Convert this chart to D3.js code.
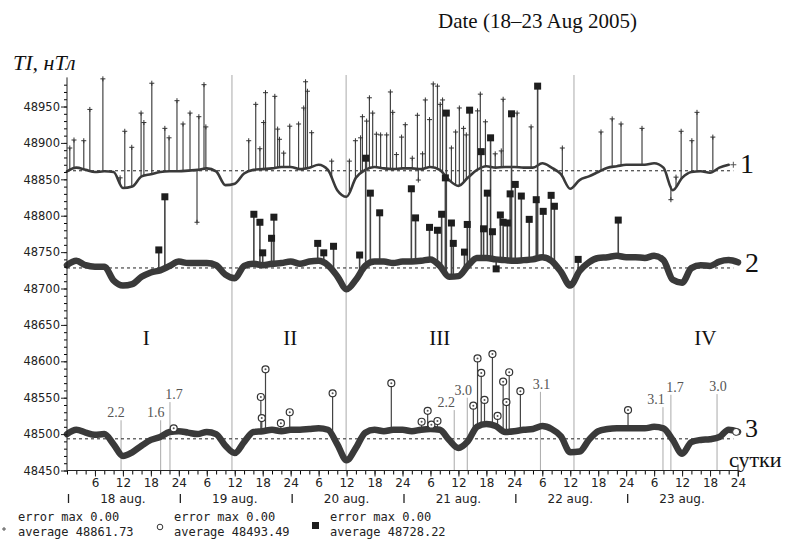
<!DOCTYPE html>
<html>
<head>
<meta charset="utf-8">
<script src="https://cdn.jsdelivr.net/npm/d3@7"></script>
<style>
body { margin: 0; background: #fff; }
svg text { font-family: "DejaVu Sans", sans-serif; }
.serif { font-family: "Liberation Serif", "Times New Roman", serif !important; }
.mono { font-family: "DejaVu Sans Mono", monospace !important; }
</style>
</head>
<body>
<script>
// --- data (hours from 18 Aug 00:00) ---
let days = ["18 aug.", "19 aug.", "20 aug.", "21 aug.", "22 aug.", "23 aug."];

// base curves, one value every 2 hours
let series1 = [48861,48866,48863,48860,48861,48860,48838,48840,48854,48857,
  48860,48861,48861,48862,48863,48865,48861,48842,48844,48858,
  48863,48864,48865,48867,48867,48864,48866,48870,48863,48835,
  48826,48852,48863,48867,48865,48864,48865,48865,48864,48867,
  48863,48849,48841,48852,48863,48868,48866,48867,48867,48866,
  48866,48872,48866,48857,48837,48849,48854,48860,48866,48868,
  48870,48870,48870,48872,48866,48835,48852,48860,48861,48859,
  48866,48870];
let series2 = [48732,48738,48732,48730,48730,48711,48704,48706,48716,48722,
  48725,48731,48737,48735,48735,48735,48732,48719,48714,48731,
  48734,48732,48734,48735,48737,48734,48737,48738,48732,48717,
  48699,48712,48731,48737,48737,48735,48737,48737,48738,48740,
  48731,48716,48717,48731,48742,48742,48740,48739,48738,48739,
  48740,48743,48738,48723,48704,48724,48736,48742,48743,48745,
  48743,48743,48742,48745,48739,48712,48708,48728,48732,48731,
  48737,48739,48736];
let series3 = [48500,48506,48502,48499,48500,48486,48470,48475,48484,48492,
  48496,48503,48504,48502,48500,48503,48500,48484,48474,48489,
  48503,48504,48506,48504,48506,48506,48507,48508,48506,48486,
  48464,48481,48502,48506,48504,48506,48506,48504,48506,48507,
  48506,48492,48481,48490,48510,48514,48511,48503,48504,48506,
  48507,48511,48507,48497,48475,48476,48492,48504,48507,48508,
  48508,48508,48508,48510,48508,48492,48473,48489,48492,48493,
  48496,48506,48503];

// outliers [hour, value]
let spikes1 = [[0.6,48893],[1.5,48904],[3.6,48903],[4.9,48946],[7.7,48988],[11.4,48852],[12.4,48916],[13.9,48894],[15.9,48941],[16.5,48928],
  [18.2,48982],[21.0,48920],[21.9,48907],[23.6,48958],[24.9,48926],[26.4,48941],[27.9,48791],[28.3,48936],[29.4,48980],[29.8,48922],
  [39.0,48903],[40.5,48953],[41.4,48892],[42.2,48928],[42.6,48969],[44.6,48964],[45.2,48919],[45.6,48905],[46.5,48886],[47.8,48923],
  [49.7,48926],[50.8,48948],[51.2,48984],[51.6,48971],[52.5,48914],[56.8,48875],[60.6,48875],[61.9,48903],[63.0,48907],[63.4,48936],
  [64.3,48930],[64.9,48962],[65.6,48941],[66.4,48912],[67.3,48911],[68.6,48911],[69.4,48970],[69.9,48942],[70.7,48884],[71.8,48908],
  [72.6,48925],[74.1,48879],[75.2,48938],[75.4,48849],[76.3,48885],[76.9,48959],[77.8,48932],[78.6,48981],[79.5,48978],[80.1,48953],
  [80.6,48959],[82.5,48893],[83.4,48915],[84.2,48948],[85.1,48920],[85.7,48911],[88.1,48944],[88.7,48967],[89.8,48929],[91.9,48885],
  [93.2,48889],[93.6,48960],[96.6,48941],[99.6,48922],[106.3,48893],[114.6,48915],[117.0,48933],[118.9,48926],[123.4,48920],[129.6,48822],
  [130.7,48853],[131.8,48916],[134.1,48903],[135.2,48942],[138.6,48908]];
let spikes2 = [[19.7,48753],[21.0,48826],[40.1,48802],[41.4,48791],[42.0,48749],[43.9,48769],[44.4,48798],[53.8,48762],[55.1,48749],[57.2,48758],
  [62.8,48746],[64.1,48879],[65.1,48831],[67.1,48804],[73.9,48837],[74.8,48797],[77.8,48784],[79.5,48780],[80.4,48802],[81.2,48852],
  [81.4,48941],[82.5,48790],[82.9,48762],[85.3,48750],[85.9,48788],[86.4,48945],[88.9,48888],[89.4,48782],[90.2,48831],[90.9,48907],
  [91.3,48778],[92.1,48727],[93.0,48801],[93.6,48791],[94.5,48790],[95.1,48830],[95.4,48940],[96.2,48843],[97.5,48827],[99.2,48795],
  [100.7,48822],[101.0,48978],[102.2,48806],[103.9,48828],[104.6,48813],[109.7,48740],[118.3,48794]];
let spikes3 = [[22.9,48508],[41.6,48551],[41.8,48522],[42.6,48589],[45.9,48515],[47.8,48530],[57.0,48556],[69.6,48570],[76.1,48517],[77.4,48532],
  [78.2,48513],[79.5,48518],[87.2,48539],[88.1,48604],[88.9,48584],[89.6,48547],[91.3,48610],[92.4,48525],[93.6,48572],[94.3,48544],
  [94.9,48585],[97.3,48559],[120.4,48533]];

// averages (legend + dashed lines)
let legendErr = ["0.00", "0.00", "0.00"];
let average1 = 48861.73, average3 = 48493.49, average2 = 48728.22;

// marked events on curve 3
let eventHours = [11.6, 20.1, 22.1, 83.1, 85.9, 101.6, 127.9, 129.6, 139.5];
let eventTop   = [48519, 48519, 48544, 48533, 48550, 48558, 48537, 48554, 48555];
let eventText  = ["2.2", "1.6", "1.7", "2.2", "3.0", "3.1", "3.1", "1.7", "3.0"];

// midday minima lines and phase labels
let minimaHours = [35.4, 59.9, 108.8];
let phaseText = ["I", "II", "III", "IV"];
let phaseHours = [17, 47.9, 80, 137];
let phaseLevel = 48632;

let width = 787, height = 540;
let svg = d3.select("body").append("svg")
  .attr("width", width)
  .attr("height", height);

let x = d3.scaleLinear().domain([0, 144]).range([67, 738]);
let y = d3.scaleLinear().domain([48450, 48990]).range([470.5, 77.4]);

let hours = d3.range(0, 145, 2);

// vertical grey lines
svg.selectAll(".minline").data(minimaHours).enter().append("line")
  .attr("x1", d => x(d)).attr("x2", d => x(d))
  .attr("y1", 75).attr("y2", 470)
  .attr("stroke", "#aaa").attr("stroke-width", 1);

// event lines + labels on curve 3
let labelDx = [-5, -5, 4, -8, -4, 1, -7, 4, 1];
svg.selectAll(".evline").data(eventHours).enter().append("line")
  .attr("x1", d => x(d)).attr("x2", d => x(d))
  .attr("y1", (d, i) => y(eventTop[i])).attr("y2", 470)
  .attr("stroke", "#aaa").attr("stroke-width", 1);
svg.selectAll(".evtext").data(eventText).enter().append("text")
  .attr("class", "serif")
  .attr("x", (d, i) => x(eventHours[i]) + labelDx[i])
  .attr("y", (d, i) => y(eventTop[i]) - 3)
  .attr("text-anchor", "middle")
  .attr("font-size", 14).attr("fill", "#555")
  .text(d => d);

// dashed average lines
[average1, average2, average3].forEach(a => {
  svg.append("line")
    .attr("x1", x(0)).attr("x2", x(143))
    .attr("y1", y(a)).attr("y2", y(a))
    .attr("stroke", "#222").attr("stroke-width", 1)
    .attr("stroke-dasharray", "3,3");
});

function drawSeries(vals, spikes, lineW, marker) {
  let h = hours.slice(0, vals.length);
  let base = d3.scaleLinear().domain(h).range(vals);
  let line = d3.line()
    .x((d, i) => x(h[i]))
    .y(d => y(d))
    .curve(d3.curveMonotoneX);

  // stems
  svg.append("g").selectAll("line").data(spikes).enter().append("line")
    .attr("x1", d => x(d[0])).attr("x2", d => x(d[0]))
    .attr("y1", d => y(base(d[0]))).attr("y2", d => y(d[1]))
    .attr("stroke", "#444").attr("stroke-width", marker == "square" ? 1.6 : 1.2);

  svg.append("path")
    .datum(vals)
    .attr("d", line)
    .attr("fill", "none")
    .attr("stroke", "#3a3a3a")
    .attr("stroke-width", lineW)
    .attr("stroke-linejoin", "round")
    .attr("stroke-linecap", "round");

  let g = svg.append("g").selectAll("g").data(spikes).enter().append("g")
    .attr("transform", d => `translate(${x(d[0])},${y(d[1])})`);
  if (marker == "plus") {
    g.append("path").attr("d", "M-2.5,0H2.5M0,-2.5V2.5")
      .attr("stroke", "#333").attr("stroke-width", 1);
  } else if (marker == "square") {
    g.append("rect").attr("x", -3.5).attr("y", -3.5).attr("width", 7).attr("height", 7)
      .attr("fill", "#1e1e1e");
  } else {
    g.append("circle").attr("r", 3.5).attr("fill", "#fff")
      .attr("stroke", "#333").attr("stroke-width", 1.2);
    g.append("circle").attr("r", 1).attr("fill", "#555");
  }
}

drawSeries(series1, spikes1, 2.6, "plus");
drawSeries(series2, spikes2, 6.5, "square");
drawSeries(series3, spikes3, 6.5, "circle");

// end markers
svg.append("path")
  .attr("d", `M${x(143) - 3},${y(series1[71])}h6M${x(143)},${y(series1[71]) - 3}v6`)
  .attr("stroke", "#555");
svg.append("circle").attr("cx", x(143.6)).attr("cy", y(series3[72]))
  .attr("r", 3.5).attr("fill", "#fff").attr("stroke", "#333");

// axes
let yAxisMinor = d3.axisLeft(y).tickValues(d3.range(48450, 48990, 10)).tickSize(3).tickFormat("");
let yAxis = d3.axisLeft(y).tickValues(d3.range(48450, 48951, 50)).tickSize(6).tickPadding(1).tickFormat(d3.format("d"));
svg.append("g").attr("transform", `translate(${x(0)},0)`).call(yAxisMinor)
  .select(".domain").remove();
let ya = svg.append("g").attr("transform", `translate(${x(0)},0)`).call(yAxis);
ya.select(".domain").attr("d", `M0,${y(48450)}V${y(48990)}`);
ya.selectAll("text").attr("font-size", 11.5).attr("fill", "#222");
ya.selectAll("line, path").attr("stroke", "#222");

let xAxisMinor = d3.axisBottom(x).tickValues(hours).tickSize(4).tickFormat("");
let xAxis = d3.axisBottom(x).tickValues(d3.range(6, 145, 6)).tickSize(6).tickPadding(2)
  .tickFormat(d => (d - 1) % 24 + 1);
svg.append("g").attr("transform", `translate(0,${y(48450)})`).call(xAxisMinor)
  .select(".domain").remove();
let xa = svg.append("g").attr("transform", `translate(0,${y(48450)})`).call(xAxis);
xa.select(".domain").attr("d", `M${x(0)},0H${x(144)}`);
xa.selectAll("text").attr("font-size", 12).attr("fill", "#222");
xa.selectAll("line, path").attr("stroke", "#222");
svg.append("line").attr("x1", x(144)).attr("x2", x(144))
  .attr("y1", y(48450) - 6).attr("y2", y(48450) + 6).attr("stroke", "#222");

// day labels
svg.selectAll(".daysep").data(days).enter().append("line")
  .attr("x1", (d, i) => x(i * 24) + 1.5).attr("x2", (d, i) => x(i * 24) + 1.5)
  .attr("y1", 494).attr("y2", 503)
  .attr("stroke", "#222").attr("stroke-width", 1.3);
svg.selectAll(".day").data(days).enter().append("text")
  .attr("x", (d, i) => x(i * 24 + 12))
  .attr("y", 503)
  .attr("text-anchor", "middle")
  .attr("font-size", 12).attr("fill", "#222")
  .text(d => d);

// phase numerals
svg.selectAll(".phase").data(phaseText).enter().append("text")
  .attr("class", "serif")
  .attr("x", (d, i) => x(phaseHours[i]))
  .attr("y", y(phaseLevel) + 7)
  .attr("text-anchor", "middle")
  .attr("font-size", 21).attr("fill", "#111")
  .text(d => d);

// curve numbers
let numY = [173, 272, 437];
let numSize = [28, 28, 26];
["1", "2", "3"].forEach((t, i) => {
  svg.append("text").attr("class", "serif")
    .attr("x", 740 + (i > 0 ? 5 : 0)).attr("y", numY[i])
    .attr("font-size", numSize[i]).attr("fill", "#111").text(t);
});
svg.append("text").attr("class", "serif")
  .attr("x", 729).attr("y", 467).attr("font-size", 22).attr("fill", "#111")
  .text("сутки");

// titles
svg.append("text").attr("class", "serif")
  .attr("x", 438).attr("y", 28).attr("font-size", 21).attr("fill", "#111")
  .text("Date (18–23 Aug 2005)");
svg.append("text").attr("class", "serif")
  .attr("x", 13).attr("y", 70).attr("font-size", 22).attr("font-style", "italic")
  .attr("fill", "#111")
  .text("TI, нТл");

// legend
let legendAvg = [average1, average3, average2];
let legX = [18, 174, 330];
legendAvg.forEach((a, i) => {
  svg.append("text").attr("class", "mono").attr("x", legX[i]).attr("y", 521)
    .attr("font-size", 12).attr("fill", "#222").text("error max " + legendErr[i]);
  svg.append("text").attr("class", "mono").attr("x", legX[i]).attr("y", 536)
    .attr("font-size", 12).attr("fill", "#222").text("average " + a.toFixed(2));
});
svg.append("path").attr("d", "M2,529h4M4,527v4").attr("stroke", "#555");
svg.append("circle").attr("cx", 160).attr("cy", 527).attr("r", 2.8)
  .attr("fill", "none").attr("stroke", "#333");
svg.append("rect").attr("x", 312).attr("y", 522).attr("width", 7).attr("height", 7)
  .attr("fill", "#1e1e1e");
</script>
</body>
</html>
